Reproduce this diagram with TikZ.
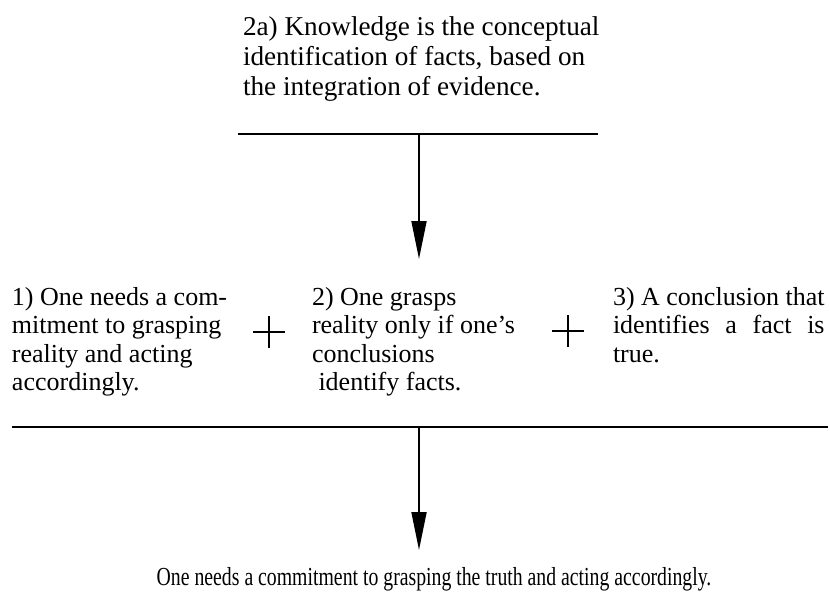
\documentclass[tikz,border=0pt]{standalone}
\usepackage{fontspec}
\setmainfont{Liberation Serif}
\usepackage{graphicx}
\usepackage{calc}
\usetikzlibrary{arrows.meta}

\begin{document}
\begin{tikzpicture}[x=1pt,y=-1pt,
  txt/.style={inner sep=0pt, outer sep=0pt, anchor=base west, align=left,
              font=\fontsize{26}{28.5}\selectfont},
  bar/.style={line width=2pt},
  flow/.style={line width=1.8pt, -{Triangle[length=38pt,width=15pt]}},
  plus/.style={line width=2.2pt}]
  \useasboundingbox (0,0) rectangle (830,595);

  % premise 2a (node base = baseline of its last line)
  \node[txt, font=\fontsize{27.2}{30}\selectfont] (know) at (243,95)
    {2a) Knowledge is the conceptual\\identification of facts, based on\\the integration of evidence.};

  % upper bar and its arrow
  \coordinate (barAl) at (238,134);
  \coordinate (barAr) at (598,134);
  \coordinate (barAm) at (419,134);
  \coordinate (tipA) at (419,259);
  \draw[bar] (barAl) -- (barAr);
  \draw[flow] (barAm) -- (tipA);

  % the three premises
  \node[txt] (p1) at (12,390.5)
    {1) One needs a com-\\mitment to grasping\\reality and acting\\accordingly.};
  \node[txt] (p2) at (312,390.5)
    {2) One grasps\\reality only if one's\\conclusions\\\hspace*{6.5pt}identify facts.};
  \node[txt] (p3) at (613,362)
    {3) A conclusion that\\\makebox[\widthof{3) A conclusion that}][s]{identifies a fact is}\\true.};

  % plus signs between premises
  \coordinate (plA) at (269,332);
  \coordinate (plB) at (568,331);
  \draw[plus] ([xshift=-16pt]plA) -- ([xshift=16pt]plA)
              ([yshift=-16pt]plA) -- ([yshift=16pt]plA);
  \draw[plus] ([xshift=-16pt]plB) -- ([xshift=16pt]plB)
              ([yshift=-16pt]plB) -- ([yshift=16pt]plB);

  % lower bar and its arrow
  \coordinate (barBl) at (12,427);
  \coordinate (barBr) at (828,427);
  \coordinate (barBm) at (419,427);
  \coordinate (tipB) at (419,550);
  \draw[bar] (barBl) -- (barBr);
  \draw[flow] (barBm) -- (tipB);

  % conclusion
  \node[txt, anchor=base] (concl) at (434,585)
    {\scalebox{0.76}[1]{One needs a commitment to grasping the truth and acting accordingly.}};
\end{tikzpicture}
\end{document}
